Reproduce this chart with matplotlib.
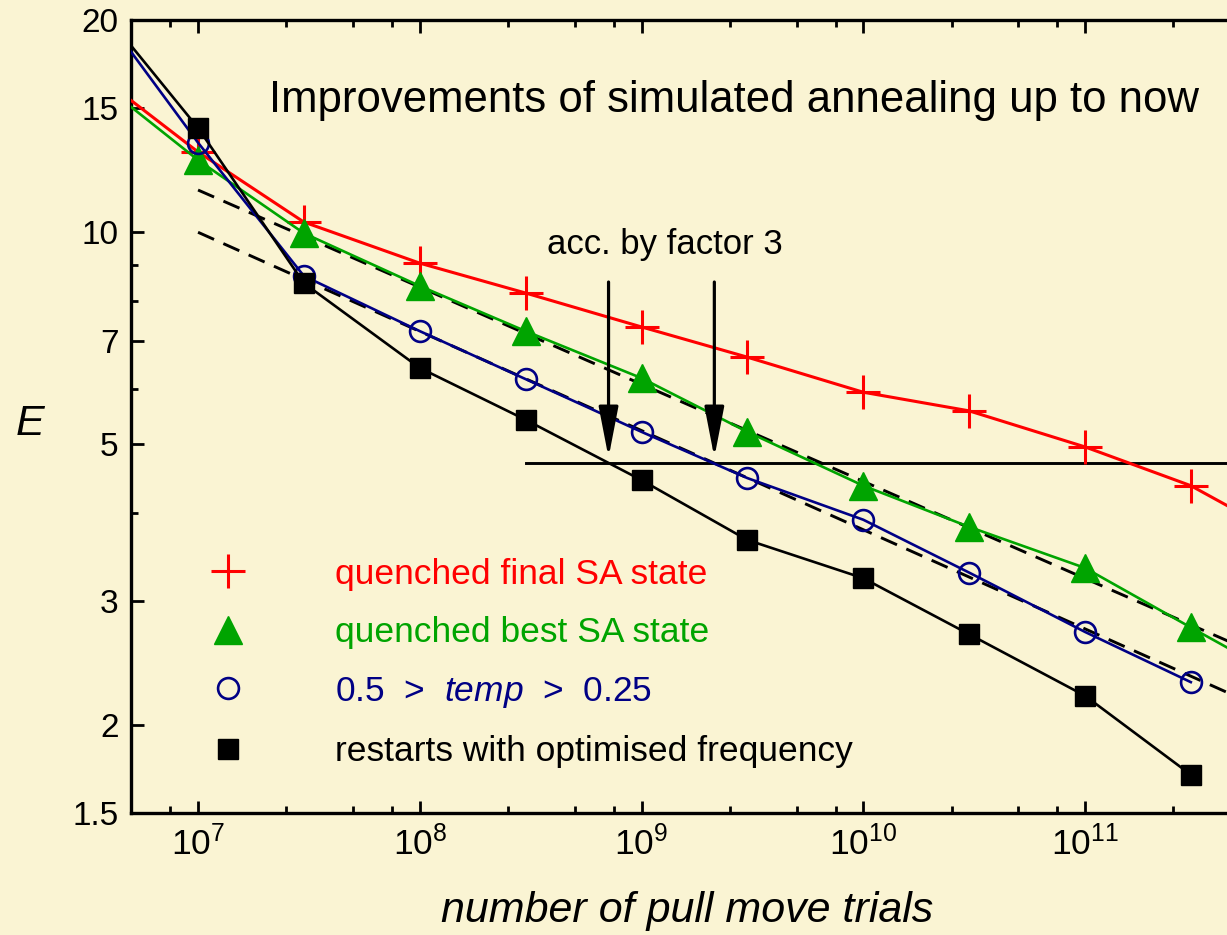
import matplotlib
matplotlib.use('Agg')
import matplotlib.pyplot as plt
import matplotlib.ticker as ticker
from matplotlib.lines import Line2D

plt.rcParams['font.family'] = ['Liberation Sans', 'DejaVu Sans']
plt.rcParams['mathtext.fontset'] = 'custom'
plt.rcParams['mathtext.rm'] = 'Liberation Sans'
plt.rcParams['mathtext.it'] = 'Liberation Sans:italic'

BG = '#faf4d3'
GREEN = '#00a400'
NAVY = '#000085'

# number of pull move trials (first and last point fall outside the frame)
trials = [3e6, 1e7, 3e7, 1e8, 3e8, 1e9, 3e9, 1e10, 3e10, 1e11, 3e11, 1e12]
E_final = [17.4, 13.0, 10.34, 9.04, 8.20, 7.34, 6.65, 5.93, 5.58, 4.96, 4.37, 3.55]
E_best = [17.1, 12.66, 9.97, 8.39, 7.24, 6.21, 5.21, 4.37, 3.82, 3.34, 2.75, 2.23]
trials_temp = [3e6, 1e7, 3e7, 1e8, 3e8, 1e9, 3e9, 1e10, 3e10, 1e11, 3e11]
E_temp = [22.4, 13.4, 8.67, 7.24, 6.19, 5.21, 4.48, 3.91, 3.29, 2.71, 2.30]
E_restart = [22.4, 14.06, 8.47, 6.42, 5.42, 4.45, 3.66, 3.23, 2.69, 2.20, 1.70]

# power-law guides (dashed)
fit_x = [1e7, 1e12]
fit_upper = [11.48, 2.35]
fit_lower = [10.0, 1.98]

# reference level and the two arrows (factor 3 apart)
level_x = [3e8, 1e12]
level_E = 4.71
arrow_x = [7.1e8, 2.13e9]
arrow_top, arrow_tip = 8.5, 4.79

xticks = [1e7, 1e8, 1e9, 1e10, 1e11]
xminor = [m * 10.0 ** k for k in range(6, 12) for m in (2.5, 5, 7.5)]
yticks = [1.5, 2, 3, 5, 7, 10, 15, 20]
yminor = [4, 6, 8, 9]

fig = plt.figure(figsize=(12.27, 9.35), dpi=100, facecolor=BG)
ax = fig.add_axes([0.107, 0.1305, 0.958, 0.848])
ax.set_facecolor(BG)
ax.set_xscale('log')
ax.set_yscale('log')
ax.set_xlim(5e6, 1e12)
ax.set_ylim(1.5, 20)

ax.plot(fit_x, fit_upper, color='k', lw=2.1, dashes=(6, 3.5), zorder=2)
ax.plot(fit_x, fit_lower, color='k', lw=2.1, dashes=(6, 3.5), zorder=2)

ax.plot(trials, E_final, color='red', lw=2.2, marker='+', ms=24, mew=2.2, zorder=3)
ax.plot(trials, E_best, color=GREEN, lw=1.9, marker='^', ms=20, zorder=3)
ax.plot(trials_temp, E_temp, color=NAVY, lw=1.9, marker='o', ms=15, mfc='none', mew=1.9, zorder=3)
ax.plot(trials_temp, E_restart, color='k', lw=1.9, marker='s', ms=14, zorder=3)

ax.plot(level_x, [level_E, level_E], color='k', lw=2.1, zorder=2)
for xa in arrow_x:
    ax.annotate('', xy=(xa, arrow_tip), xytext=(xa, arrow_top),
                arrowprops=dict(arrowstyle='-|>,head_length=3.1,head_width=0.6',
                                mutation_scale=10, color='k', lw=2.3,
                                shrinkA=0, shrinkB=0))

ax.xaxis.set_major_locator(ticker.FixedLocator(xticks))
ax.xaxis.set_major_formatter(ticker.LogFormatterSciNotation())
ax.xaxis.set_minor_locator(ticker.FixedLocator(xminor))
ax.xaxis.set_minor_formatter(ticker.NullFormatter())
ax.yaxis.set_major_locator(ticker.FixedLocator(yticks))
ax.yaxis.set_major_formatter(ticker.FuncFormatter(lambda v, p: '%g' % v))
ax.yaxis.set_minor_locator(ticker.FixedLocator(yminor))
ax.yaxis.set_minor_formatter(ticker.NullFormatter())

ax.tick_params(which='both', direction='in', top=True, right=False, width=2.0, colors='k')
ax.tick_params(which='major', length=9)
ax.tick_params(which='minor', length=5)
ax.tick_params(axis='y', which='major', pad=9, labelsize=24)
ax.tick_params(axis='x', which='major', pad=9, labelsize=25.5)
for s in ax.spines.values():
    s.set_linewidth(2.4)

ax.set_xlabel('number of pull move trials', fontsize=31, style='italic')
ax.xaxis.set_label_coords(0.473, -0.124)
ax.xaxis.label.set_va('center')
ax.set_ylabel('E', fontsize=31, style='italic', rotation=0, va='center', ha='center')
ax.yaxis.set_label_coords(-0.086, 0.49)

fig.text(0.598, 0.893, 'Improvements of simulated annealing up to now',
         fontsize=31.5, ha='center', va='center')
fig.text(0.542, 0.738, 'acc. by factor 3', fontsize=25, ha='center', va='center')

handles = [
    Line2D([], [], ls='none', color='red', marker='+', ms=24, mew=2.2),
    Line2D([], [], ls='none', color=GREEN, marker='^', ms=20),
    Line2D([], [], ls='none', color=NAVY, marker='o', ms=15, mfc='none', mew=1.9),
    Line2D([], [], ls='none', color='k', marker='s', ms=14),
]
labels = ['quenched final SA state', 'quenched best SA state',
          r'0.5  >  $\mathit{temp}$  >  0.25', 'restarts with optimised frequency']
ax.legend(handles, labels, loc='upper left', bbox_to_anchor=(0.067, 0.322),
          frameon=False, fontsize=25.5, handlelength=1.0, handletextpad=2.52,
          labelspacing=0.72, borderpad=0, borderaxespad=0,
          labelcolor=['red', GREEN, NAVY, 'k'])

fig.savefig('out.png', dpi=100, facecolor=BG)
